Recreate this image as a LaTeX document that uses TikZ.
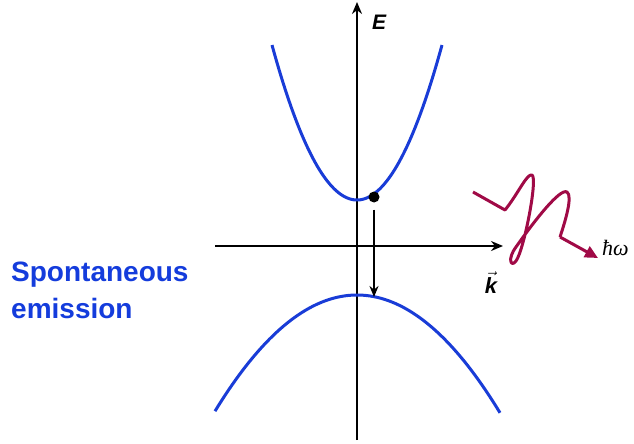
\documentclass[tikz,border=0pt]{standalone}
\usepackage{fontspec}
\setmainfont{Liberation Sans}
\newfontfamily\hwfont{Liberation Serif}
\usetikzlibrary{arrows.meta}
\definecolor{bandblue}{RGB}{25,60,215}
\definecolor{textblue}{RGB}{20,60,220}
\definecolor{photon}{RGB}{160,10,70}
\tikzset{
  axis/.style={line width=2pt, -{Stealth[length=12pt,width=10pt]}},
  band/.style={bandblue, line width=3pt},
  wave/.style={photon, line width=3pt, line join=round},
}
\begin{document}
\begin{tikzpicture}[x=1pt,y=-1pt]
\useasboundingbox (0,0) rectangle (634,444);
% axes
\coordinate (ybot) at (357,440);
\coordinate (ytop) at (357,2);
\coordinate (xl) at (215,246);
\coordinate (xr) at (503,246);
\draw[axis] (ybot) -- (ytop);
\draw[axis] (xl) -- (xr);
\node (E) at (379,22) {\fontsize{21}{24}\selectfont\bfseries\itshape E};
\node (k) at (491,283) {\fontsize{22}{24}\selectfont$\vec{\hbox{\bfseries\itshape k}}$};
% bands
\draw[band] plot[domain=272:442, samples=80] (\x, {200-(0.14646*(\x-357))^2});
\draw[band] plot[domain=215:500, samples=80] (\x, {295+(0.0759*(\x-357))^2});
% electron and transition
\node[circle, fill=black, inner sep=0pt, minimum size=11pt] (dot) at (374,197) {};
\coordinate (vb) at (374,297);
\draw[line width=2pt, -{Stealth[length=11pt,width=9pt]}] ([yshift=-7pt]dot.south) -- (vb);
% photon
\coordinate (p0) at (473,192);
\coordinate (p1) at (505,210);
\coordinate (p2) at (560,237);
\coordinate (ptip) at (598,258);
\draw[wave] (p0) -- (p1)
  .. controls (518,194) and (527,173) .. (532,175)
  .. controls (538,178) and (524,250) .. (516,261)
  .. controls (511,268) and (507,259) .. (516,247)
  .. controls (535,220) and (560,188) .. (567,192)
  .. controls (573,196) and (565,222) .. (p2);
\draw[wave, -{Triangle[length=13pt,width=12pt]}] (p2) -- (ptip);
\node[anchor=west, inner sep=0pt] (hw) at (602,248) {\fontsize{22}{24}\selectfont\hwfont\itshape ħω};
% label
\node[anchor=north west, align=left, inner sep=0pt, text=textblue,
      font=\fontsize{28}{37}\selectfont\bfseries] (lbl) at (11,262)
  {Spontaneous\\emission};
\end{tikzpicture}
\end{document}
